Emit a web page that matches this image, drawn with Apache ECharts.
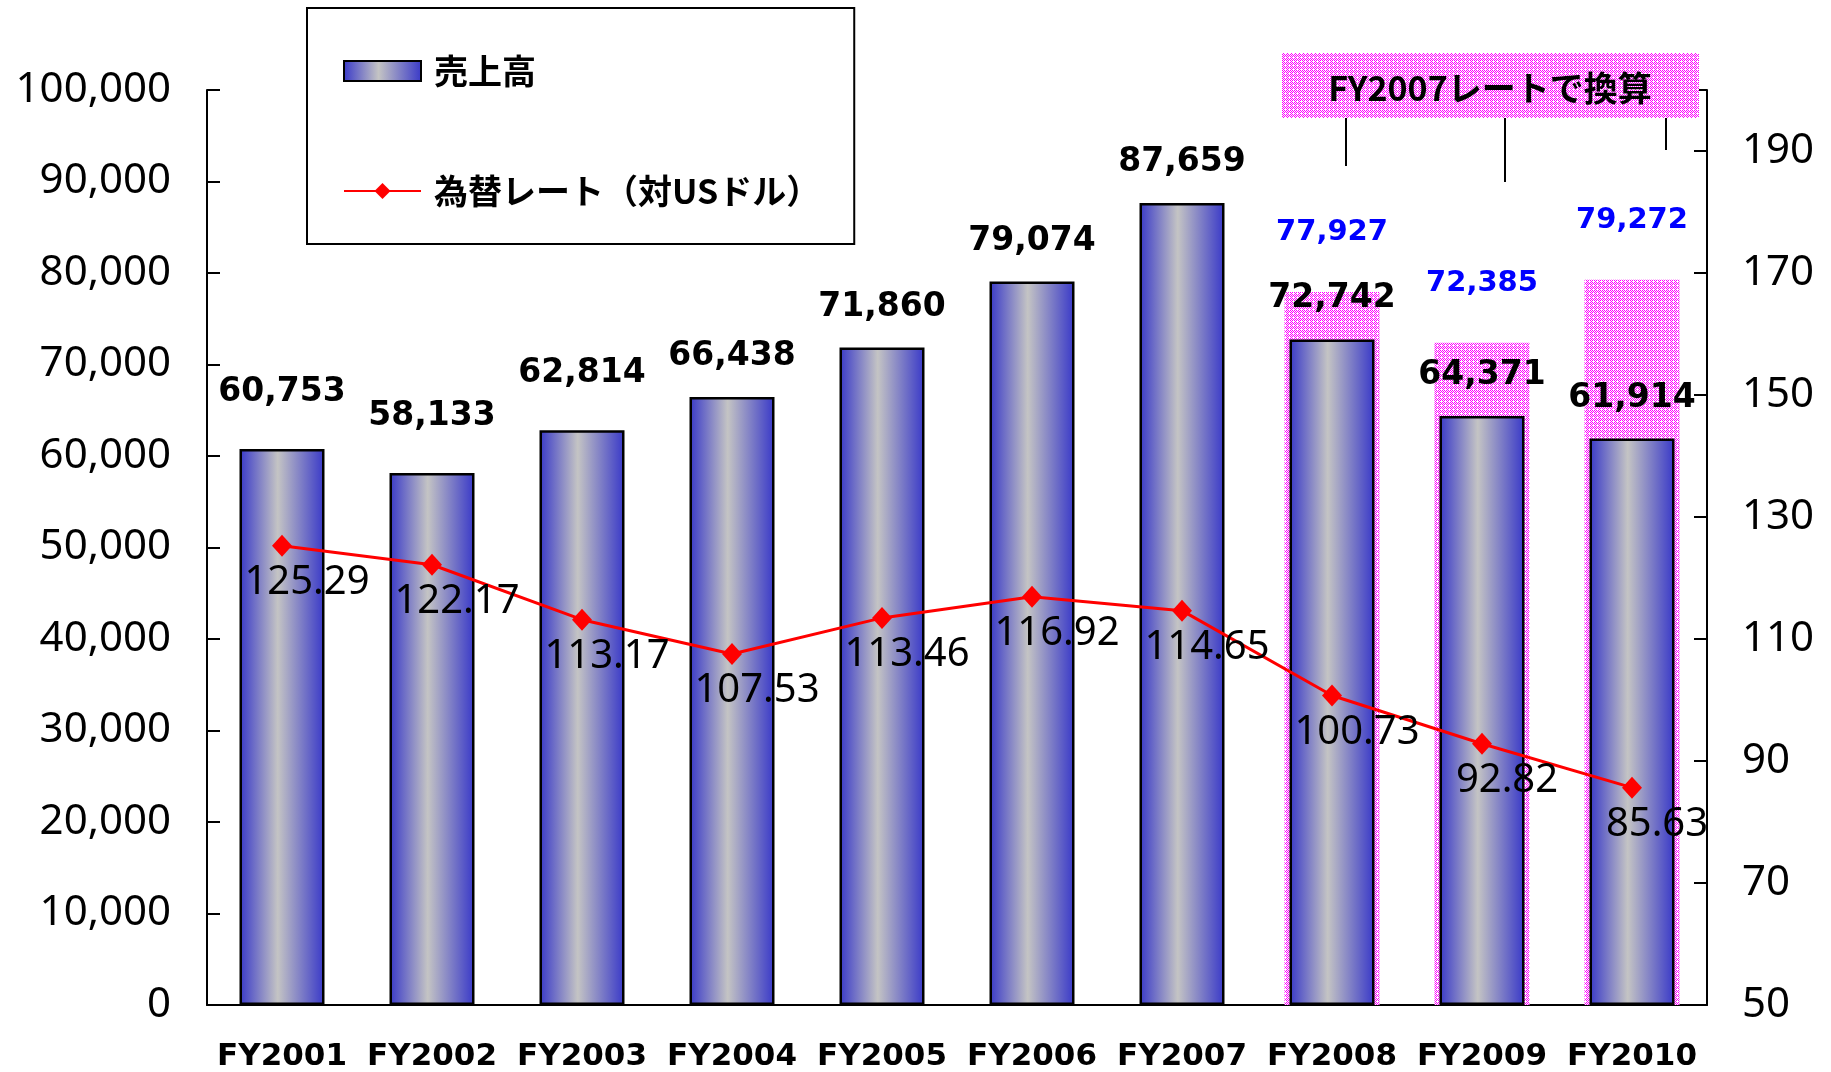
<!DOCTYPE html>
<html>
<head>
<meta charset="utf-8">
<script src="https://cdn.jsdelivr.net/npm/echarts@6/dist/echarts.min.js"></script>
<style>
  html, body { margin: 0; padding: 0; background: #fff; }
  #main { width: 1831px; height: 1072px; }
</style>
</head>
<body>
<div id="main"></div>
<script>
// 売上高と為替レート
var categories = ['FY2001', 'FY2002', 'FY2003', 'FY2004', 'FY2005', 'FY2006', 'FY2007', 'FY2008', 'FY2009', 'FY2010'];
var sales = [60753, 58133, 62814, 66438, 71860, 79074, 87659, 72742, 64371, 61914];
// FY2007レートで換算した売上高 (FY2008以降のみ)
var salesAt2007Rate = ['-', '-', '-', '-', '-', '-', '-', 77927, 72385, 79272];
var usdRate = [125.29, 122.17, 113.17, 107.53, 113.46, 116.92, 114.65, 100.73, 92.82, 85.63];

var latinFont = 'DejaVu Sans';
var numFont = 'Noto Sans';
var cjkFont = '"Noto Sans CJK JP", "DejaVu Sans"';

// ピンクの網掛けパターン
function makePattern() {
  var c = document.createElement('canvas');
  c.width = 4; c.height = 4;
  var ctx = c.getContext('2d');
  ctx.fillStyle = '#ff00ff';
  ctx.fillRect(0, 0, 4, 4);
  ctx.fillStyle = '#ffffff';
  [[1, 0], [3, 0], [0, 1], [2, 1], [1, 2], [3, 2], [0, 3], [2, 3], [1, 1]].forEach(function (p) {
    ctx.fillRect(p[0], p[1], 1, 1);
  });
  return c;
}
var pinkFill = { image: makePattern(), repeat: 'repeat' };

var barGradient = new echarts.graphic.LinearGradient(0, 0, 1, 0, [
  { offset: 0, color: '#3838c8' },
  { offset: 0.45, color: '#c4c4c4' },
  { offset: 1, color: '#3838c8' }
]);

var fmt = function (v) { return Number(v).toLocaleString('en-US'); };

var myChart = echarts.init(document.getElementById('main'));

var option = {
  backgroundColor: '#ffffff',
  animation: false,
  grid: { left: 207, right: 124, top: 90, bottom: 65 },
  legend: {
    data: [{ name: '売上高', icon: 'rect' }, { name: '為替レート（対USドル）' }],
    orient: 'vertical',
    left: 307,
    top: 8,
    padding: [46, 34, 36, 36],
    itemGap: 86,
    itemWidth: 77,
    itemHeight: 20,
    borderColor: '#000',
    borderWidth: 2,
    textStyle: { fontFamily: cjkFont, fontWeight: 'bold', fontSize: 34, color: '#000', padding: [0, 0, 0, 8] }
  },
  xAxis: [{
    type: 'category',
    data: categories,
    axisLine: { lineStyle: { color: '#000', width: 2 } },
    axisTick: { inside: true, length: 12, lineStyle: { color: '#000', width: 2 } },
    axisLabel: { interval: 0, color: '#000', fontFamily: latinFont, fontWeight: 'bold', fontSize: 31, margin: 36 }
  }, {
    type: 'category',
    data: categories,
    show: false
  }],
  yAxis: [{
    type: 'value',
    min: 0,
    max: 100000,
    interval: 10000,
    splitLine: { show: false },
    axisLine: { show: true, lineStyle: { color: '#000', width: 2 } },
    axisTick: { show: true, inside: true, length: 13, lineStyle: { color: '#000', width: 2 } },
    axisLabel: { color: '#000', fontFamily: numFont, fontSize: 42, margin: 36, formatter: fmt }
  }, {
    type: 'value',
    position: 'right',
    min: 50,
    max: 200,
    interval: 20,
    splitLine: { show: false },
    axisLine: { show: true, lineStyle: { color: '#000', width: 2 } },
    axisTick: { show: true, inside: true, length: 13, lineStyle: { color: '#000', width: 2 } },
    axisLabel: {
      color: '#000', fontFamily: numFont, fontSize: 42, margin: 35,
      formatter: function (v) { return v === 200 ? '' : v; }
    }
  }],
  series: [{
    name: 'FY2007レート換算',
    type: 'bar',
    xAxisIndex: 1,
    yAxisIndex: 0,
    data: salesAt2007Rate,
    barWidth: 95,
    z: 1,
    itemStyle: { color: pinkFill },
    label: {
      show: true, position: 'top', distance: 45,
      color: '#0000ff', fontFamily: latinFont, fontWeight: 'bold', fontSize: 29,
      formatter: function (p) { return fmt(p.value); }
    }
  }, {
    name: '売上高',
    type: 'bar',
    xAxisIndex: 0,
    yAxisIndex: 0,
    data: sales.map(function (v, i) {
      return i < 3 ? { value: v, label: { distance: 40 } } : v;
    }),
    barWidth: 85,
    z: 2,
    itemStyle: { color: barGradient, borderColor: '#000', borderWidth: 2.5 },
    label: {
      show: true, position: 'top', distance: 24,
      color: '#000', fontFamily: latinFont, fontWeight: 'bold', fontSize: 33,
      formatter: function (p) { return fmt(p.value); }
    }
  }, {
    name: '為替レート（対USドル）',
    type: 'line',
    yAxisIndex: 1,
    data: usdRate,
    z: 3,
    color: '#ff0000',
    symbol: 'diamond',
    symbolSize: [20, 22],
    lineStyle: { color: '#ff0000', width: 3 },
    itemStyle: { color: '#ff0000' },
    label: {
      show: true, position: 'bottom', distance: 6, offset: [25, 0],
      color: '#000', fontFamily: numFont, fontSize: 40,
      formatter: function (p) { return p.value.toFixed(2); }
    }
  }],
  graphic: [{
    type: 'rect',
    shape: { x: 1282, y: 53, width: 417, height: 65 },
    style: { fill: pinkFill },
    z: 10
  }, {
    type: 'text',
    x: 1490, y: 88,
    style: {
      text: 'FY2007レートで換算', fill: '#000',
      font: 'bold 34px "Noto Sans CJK JP", "DejaVu Sans"',
      textAlign: 'center', textVerticalAlign: 'middle'
    },
    z: 11
  }, {
    type: 'line', shape: { x1: 1346, y1: 118, x2: 1346, y2: 166 },
    style: { stroke: '#000', lineWidth: 2 }, z: 10
  }, {
    type: 'line', shape: { x1: 1505, y1: 118, x2: 1505, y2: 182 },
    style: { stroke: '#000', lineWidth: 2 }, z: 10
  }, {
    type: 'line', shape: { x1: 1666, y1: 118, x2: 1666, y2: 150 },
    style: { stroke: '#000', lineWidth: 2 }, z: 10
  }]
};

myChart.setOption(option);
</script>
</body>
</html>
